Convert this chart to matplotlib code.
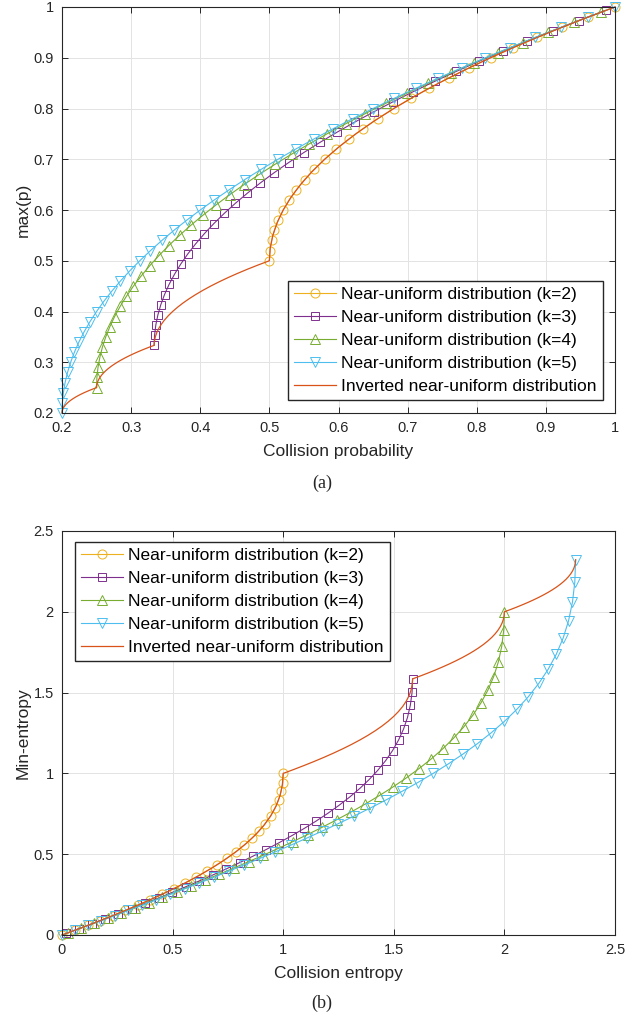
import numpy as np
import matplotlib
matplotlib.use("Agg")
import matplotlib.pyplot as plt

# max(p) and collision probability of the marked points
p_k2 = [0.50, 0.52, 0.54, 0.56, 0.58, 0.60, 0.62, 0.64, 0.66, 0.68, 0.70, 0.72, 0.74,
        0.76, 0.78, 0.80, 0.82, 0.84, 0.86, 0.88, 0.90, 0.92, 0.94, 0.96, 0.98, 1.00]
cp_k2 = [0.5, 0.5008, 0.5032, 0.5072, 0.5128, 0.52, 0.5288, 0.5392, 0.5512, 0.5648, 0.58,
         0.5968, 0.6152, 0.6352, 0.6568, 0.68, 0.7048, 0.7312, 0.7592, 0.7888, 0.82,
         0.8528, 0.8872, 0.9232, 0.9608, 1.0]

p_k3 = [0.3333, 0.3533, 0.3733, 0.3933, 0.4133, 0.4333, 0.4533, 0.4733, 0.4933, 0.5133,
        0.5333, 0.5533, 0.5733, 0.5933, 0.6133, 0.6333, 0.6533, 0.6733, 0.6933, 0.7133,
        0.7333, 0.7533, 0.7733, 0.7933, 0.8133, 0.8333, 0.8533, 0.8733, 0.8933, 0.9133,
        0.9333, 0.9533, 0.9733, 0.9933]
cp_k3 = [0.3333, 0.3339, 0.3357, 0.3387, 0.3429, 0.3483, 0.3549, 0.3627, 0.3717, 0.3819,
         0.3933, 0.4059, 0.4197, 0.4347, 0.4509, 0.4683, 0.4869, 0.5067, 0.5277, 0.5499,
         0.5733, 0.5979, 0.6237, 0.6507, 0.6789, 0.7083, 0.7389, 0.7707, 0.8037, 0.8379,
         0.8733, 0.9099, 0.9477, 0.9867]

p_k4 = [0.25, 0.27, 0.29, 0.31, 0.33, 0.35, 0.37, 0.39, 0.41, 0.43, 0.45, 0.47, 0.49,
        0.51, 0.53, 0.55, 0.57, 0.59, 0.61, 0.63, 0.65, 0.67, 0.69, 0.71, 0.73, 0.75,
        0.77, 0.79, 0.81, 0.83, 0.85, 0.87, 0.89, 0.91, 0.93, 0.95, 0.97, 0.99]
cp_k4 = [0.25, 0.2505, 0.2521, 0.2548, 0.2585, 0.2633, 0.2692, 0.2761, 0.2841, 0.2932,
         0.3033, 0.3145, 0.3268, 0.3401, 0.3545, 0.37, 0.3865, 0.4041, 0.4228, 0.4425,
         0.4633, 0.4852, 0.5081, 0.5321, 0.5572, 0.5833, 0.6105, 0.6388, 0.6681, 0.6985,
         0.73, 0.7625, 0.7961, 0.8308, 0.8665, 0.9033, 0.9412, 0.9801]

p_k5 = [0.20, 0.22, 0.24, 0.26, 0.28, 0.30, 0.32, 0.34, 0.36, 0.38, 0.40, 0.42, 0.44,
        0.46, 0.48, 0.50, 0.52, 0.54, 0.56, 0.58, 0.60, 0.62, 0.64, 0.66, 0.68, 0.70,
        0.72, 0.74, 0.76, 0.78, 0.80, 0.82, 0.84, 0.86, 0.88, 0.90, 0.92, 0.94, 0.96,
        0.98, 1.00]
cp_k5 = [0.2, 0.2005, 0.202, 0.2045, 0.208, 0.2125, 0.218, 0.2245, 0.232, 0.2405, 0.25,
         0.2605, 0.272, 0.2845, 0.298, 0.3125, 0.328, 0.3445, 0.362, 0.3805, 0.4, 0.4205,
         0.442, 0.4645, 0.488, 0.5125, 0.538, 0.5645, 0.592, 0.6205, 0.65, 0.6805, 0.712,
         0.7445, 0.778, 0.8125, 0.848, 0.8845, 0.922, 0.9605, 1.0]

# inverted near-uniform curve (no markers)
p_inv = [0.2, 0.2025, 0.205, 0.2075, 0.21, 0.2125, 0.215, 0.2175, 0.22, 0.2225, 0.225,
         0.2275, 0.23, 0.2325, 0.235, 0.2375, 0.24, 0.2425, 0.245, 0.2475, 0.25,
         0.254167, 0.258333, 0.2625, 0.266667, 0.270833, 0.275, 0.279167, 0.283333,
         0.2875, 0.291667, 0.295833, 0.3, 0.304167, 0.308333, 0.3125, 0.316667, 0.320833,
         0.325, 0.329167, 0.333333,
         0.341667, 0.35, 0.358333, 0.366667, 0.375, 0.383333, 0.391667, 0.4, 0.408333,
         0.416667, 0.425, 0.433333, 0.441667, 0.45, 0.458333, 0.466667, 0.475, 0.483333,
         0.491667, 0.5,
         0.525, 0.55, 0.575, 0.6, 0.625, 0.65, 0.675, 0.7, 0.725, 0.75, 0.775, 0.8,
         0.825, 0.85, 0.875, 0.9, 0.925, 0.95, 0.975, 1.0]
cp_inv = [0.2, 0.200125, 0.2005, 0.201125, 0.202, 0.203125, 0.2045, 0.206125, 0.208,
          0.210125, 0.2125, 0.215125, 0.218, 0.221125, 0.2245, 0.228125, 0.232, 0.236125,
          0.2405, 0.245125, 0.25,
          0.250208, 0.250833, 0.251875, 0.253333, 0.255208, 0.2575, 0.260208, 0.263333,
          0.266875, 0.270833, 0.275208, 0.28, 0.285208, 0.290833, 0.296875, 0.303333,
          0.310208, 0.3175, 0.325208, 0.333333,
          0.33375, 0.335, 0.337083, 0.34, 0.34375, 0.348333, 0.35375, 0.36, 0.367083,
          0.375, 0.38375, 0.393333, 0.40375, 0.415, 0.427083, 0.44, 0.45375, 0.468333,
          0.48375, 0.5,
          0.50125, 0.505, 0.51125, 0.52, 0.53125, 0.545, 0.56125, 0.58, 0.60125, 0.625,
          0.65125, 0.68, 0.71125, 0.745, 0.78125, 0.82, 0.86125, 0.905, 0.95125, 1.0]

labels = ["Near-uniform distribution (k=2)", "Near-uniform distribution (k=3)",
          "Near-uniform distribution (k=4)", "Near-uniform distribution (k=5)",
          "Inverted near-uniform distribution"]
colors = ["#EDB120", "#7E2F8E", "#77AC30", "#4DBEEE", "#D95319"]
markers = ["o", "s", "^", "v"]
msizes = [6.5, 5.5, 7, 7]

plt.rcParams["font.family"] = ["Liberation Sans", "DejaVu Sans"]
fg = "#262626"

W, H = 634, 1019
fig = plt.figure(figsize=(W / 100, H / 100), dpi=100)
ax1 = fig.add_axes([62 / W, 1 - 413 / H, 553 / W, 406 / H])
ax2 = fig.add_axes([62 / W, 1 - 935 / H, 553 / W, 404 / H])

series = [(p_k2, cp_k2), (p_k3, cp_k3), (p_k4, cp_k4), (p_k5, cp_k5)]


def style(ax, ticks, ticklabels, lim):
    ax.set_xlim(lim)
    ax.set_ylim(lim)
    ax.set_xticks(ticks)
    ax.set_yticks(ticks)
    ax.set_xticklabels(ticklabels)
    ax.set_yticklabels(ticklabels)
    ax.grid(True, color="#e3e3e3", linewidth=0.7)
    ax.set_axisbelow(True)
    ax.tick_params(direction="in", length=4, width=0.7, colors=fg, labelsize=10.5,
                   top=True, right=True, pad=6)
    for s in ax.spines.values():
        s.set_color(fg)
        s.set_linewidth(0.8)


def add_legend(ax, loc, anchor):
    ax.legend(loc=loc, bbox_to_anchor=anchor, borderaxespad=0, fontsize=12.5,
              fancybox=False, framealpha=1, edgecolor=fg, handlelength=2.4,
              handletextpad=0.3, labelspacing=0.45, borderpad=0.35)


# (a) max(p) vs collision probability
for (p, cp), c, m, ms, lab in zip(series, colors, markers, msizes, labels):
    ax1.plot(cp, p, color=c, marker=m, markersize=ms, markerfacecolor="none",
             markeredgewidth=0.7, linewidth=0.8, label=lab, clip_on=False)
ax1.plot(cp_inv, p_inv, color=colors[4], linewidth=0.9, label=labels[4], clip_on=False)
style(ax1, [0.2, 0.3, 0.4, 0.5, 0.6, 0.7, 0.8, 0.9, 1.0],
      ["0.2", "0.3", "0.4", "0.5", "0.6", "0.7", "0.8", "0.9", "1"], (0.2, 1.0))
ax1.set_xlabel("Collision probability", fontsize=12.5, color=fg, labelpad=6)
ax1.set_ylabel("max(p)", fontsize=12.5, color=fg, labelpad=2)
add_legend(ax1, "lower right", (0.978, 0.032))

# (b) min-entropy vs collision entropy (-log2 of the same quantities)
for (p, cp), c, m, ms, lab in zip(series, colors, markers, msizes, labels):
    ax2.plot(-np.log2(cp), -np.log2(p), color=c, marker=m, markersize=ms,
             markerfacecolor="none", markeredgewidth=0.7, linewidth=0.8, label=lab,
             clip_on=False)
ax2.plot(-np.log2(cp_inv), -np.log2(p_inv), color=colors[4], linewidth=0.9,
         label=labels[4], clip_on=False)
style(ax2, [0, 0.5, 1.0, 1.5, 2.0, 2.5], ["0", "0.5", "1", "1.5", "2", "2.5"], (0, 2.5))
ax2.set_xlabel("Collision entropy", fontsize=12.5, color=fg, labelpad=6)
ax2.set_ylabel("Min-entropy", fontsize=12.5, color=fg, labelpad=2)
add_legend(ax2, "upper left", (0.0235, 0.973))

fig.text(322 / W, 1 - 483 / H, "(a)", ha="center", va="center", fontsize=13,
         family="Liberation Serif", color=fg)
fig.text(322 / W, 1 - 1003 / H, "(b)", ha="center", va="center", fontsize=13,
         family="Liberation Serif", color=fg)

fig.savefig("out.png", dpi=100)
